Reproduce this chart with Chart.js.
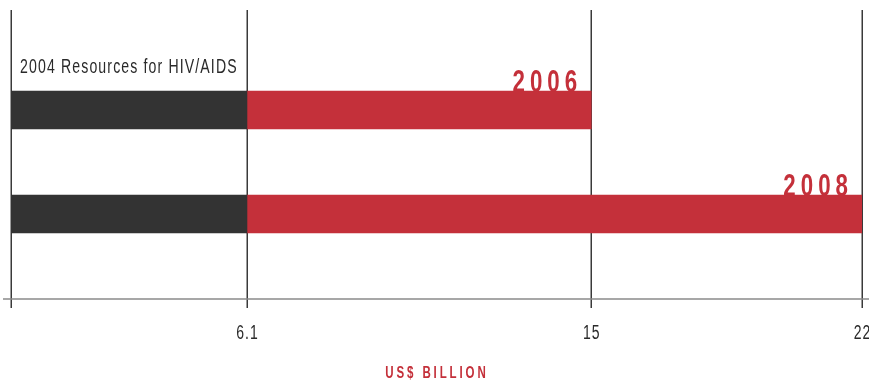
<!DOCTYPE html>
<html>
<head>
<meta charset="utf-8">
<script src="https://cdn.jsdelivr.net/npm/chart.js@4"></script>
<style>
html,body{margin:0;padding:0;background:#fff;overflow:hidden;}
canvas{display:block;}
</style>
</head>
<body>
<canvas id="c" width="869" height="382"></canvas>
<script>
const years = ['2006', '2008'];
const base2004 = [6.1, 6.1];
const totals = [15, 22];
const tickValues = [0, 6.1, 15, 22];
const tickLabels = ['', '6.1', '15', '22'];
const baseLabel = '2004 Resources for HIV/AIDS';
const axisTitle = 'US$ BILLION';

const DARK = '#333333';
const RED = '#c4303a';
const FONT = '"Liberation Sans", Arial, sans-serif';

// draw horizontally condensed text
function condText(ctx, text, x, y, align, sx, spacing) {
  ctx.save();
  ctx.letterSpacing = spacing + 'px';
  let w = ctx.measureText(text).width - spacing;
  ctx.textAlign = 'left';
  ctx.translate(x, y);
  ctx.scale(sx, 1);
  let start = 0;
  if (align === 'center') start = -w / 2;
  else if (align === 'right') start = -w;
  ctx.fillText(text, start, 0);
  ctx.restore();
}

const decor = {
  id: 'decor',
  beforeDatasetsDraw(chart) {
    const ctx = chart.ctx, x = chart.scales.x, a = chart.chartArea;
    ctx.save();
    ctx.strokeStyle = '#3a3a3a';
    ctx.lineWidth = 1.5;
    tickValues.forEach(v => {
      const px = Math.round(x.getPixelForValue(v)) + 0.25;
      ctx.beginPath();
      ctx.moveTo(px, a.top);
      ctx.lineTo(px, a.bottom + 9);
      ctx.stroke();
    });
    ctx.strokeStyle = '#8a8a8a';
    ctx.lineWidth = 1.5;
    ctx.beginPath();
    ctx.moveTo(3, a.bottom);
    ctx.lineTo(chart.width, a.bottom);
    ctx.stroke();
    ctx.restore();
  },
  afterDatasetsDraw(chart) {
    const ctx = chart.ctx, x = chart.scales.x, a = chart.chartArea;
    ctx.save();
    ctx.textBaseline = 'alphabetic';
    // year labels
    const meta = chart.getDatasetMeta(1);
    ctx.fillStyle = RED;
    ctx.font = 'bold 31px ' + FONT;
    years.forEach((yr, i) => {
      const el = meta.data[i];
      const top = el.y - el.height / 2;
      condText(ctx, yr, x.getPixelForValue(totals[i]) - 14, top + 1, 'right', 0.72, 7);
    });
    // 2004 label
    const el0 = chart.getDatasetMeta(0).data[0];
    ctx.fillStyle = '#2a2a2a';
    ctx.font = '20px ' + FONT;
    condText(ctx, baseLabel, x.getPixelForValue(0) + 9, el0.y - el0.height / 2 - 18, 'left', 0.705, 1.6);
    // tick labels
    ctx.font = '20px ' + FONT;
    tickValues.forEach((v, i) => {
      condText(ctx, tickLabels[i], x.getPixelForValue(v), a.bottom + 40, 'center', 0.7, 1.5);
    });
    // axis title
    ctx.fillStyle = RED;
    ctx.font = 'bold 16px ' + FONT;
    condText(ctx, axisTitle, (a.left + a.right) / 2 - 1, a.bottom + 79, 'center', 0.72, 4);
    ctx.restore();
  }
};

new Chart(document.getElementById('c'), {
  type: 'bar',
  data: {
    datasets: [
      {
        label: '2004',
        data: years.map((yr, i) => ({ y: i + 1, x: [0, base2004[i]] })),
        backgroundColor: DARK,
        grouped: false,
        barThickness: 38
      },
      {
        label: 'Increase',
        data: years.map((yr, i) => ({ y: i + 1, x: [base2004[i], totals[i]] })),
        backgroundColor: RED,
        grouped: false,
        barThickness: 38
      }
    ]
  },
  options: {
    indexAxis: 'y',
    responsive: false,
    animation: false,
    layout: { padding: { left: 11, right: 7, top: 10, bottom: 83 } },
    scales: {
      x: { type: 'linear', min: 0, max: 22, display: false, offset: false },
      y: { type: 'linear', min: 0.0385, max: 2.817, reverse: true, offset: false, display: false }
    },
    plugins: { legend: { display: false }, tooltip: { enabled: false } }
  },
  plugins: [decor]
});
</script>
</body>
</html>
